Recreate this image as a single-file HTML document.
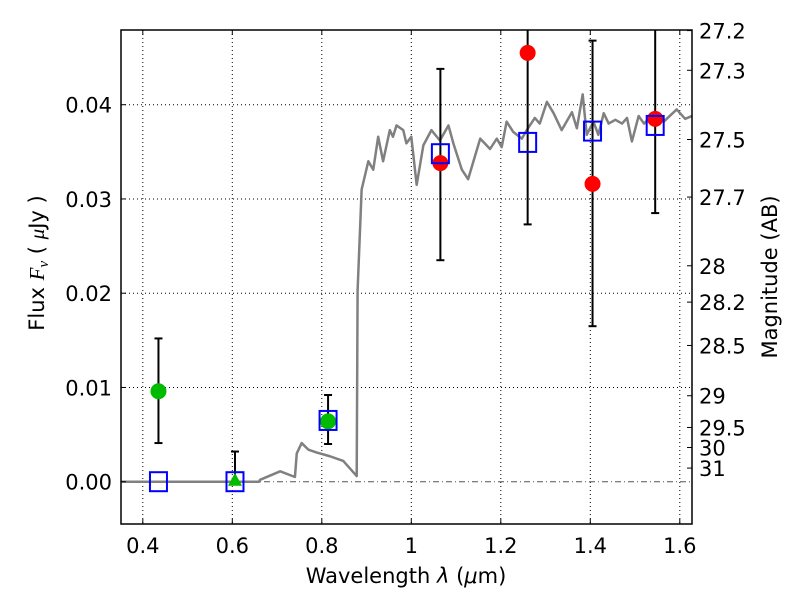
<!DOCTYPE html>
<html><head><meta charset="utf-8"><style>
body{margin:0;background:#fff}
svg text{font-family:"DejaVu Sans","Liberation Sans",sans-serif;fill:#000}
</style></head><body>
<svg id="c" width="800" height="600" viewBox="0 0 800 600"></svg>
<script>
const xTicks=[0.4,0.6,0.8,1.0,1.2,1.4,1.6];
const xTickLabels=["0.4","0.6","0.8","1","1.2","1.4","1.6"];
const yTicks=[0,0.01,0.02,0.03,0.04];
const yTickLabels=["0.00","0.01","0.02","0.03","0.04"];
const magTicks=[27.2,27.3,27.5,27.7,28,28.2,28.5,29,29.5,30,31];
const magLabels=["27.2","27.3","27.5","27.7","28","28.2","28.5","29","29.5","30","31"];
const specLam=[0.351,0.66,0.662,0.707,0.740,0.744,0.755,0.770,0.788,0.818,0.848,0.878,0.880,0.889,0.904,0.915,0.926,0.937,0.952,0.959,0.967,0.982,0.989,1.000,1.012,1.027,1.045,1.064,1.083,1.094,1.113,1.127,1.154,1.176,1.191,1.202,1.213,1.228,1.247,1.258,1.276,1.287,1.303,1.318,1.336,1.359,1.370,1.383,1.392,1.407,1.418,1.430,1.441,1.456,1.471,1.482,1.493,1.508,1.520,1.542,1.564,1.593,1.612,1.627];
const specFlux=[0,0,0.0002,0.0011,0.0005,0.003,0.0041,0.0034,0.0031,0.0027,0.0022,0.0006,0.0203,0.031,0.034,0.0331,0.0366,0.034,0.0373,0.0366,0.0378,0.0373,0.0359,0.0366,0.0315,0.0357,0.0373,0.0362,0.0378,0.0359,0.0331,0.0321,0.0364,0.0353,0.0364,0.0355,0.0382,0.0371,0.0364,0.0373,0.0386,0.038,0.0403,0.0391,0.0373,0.0392,0.0375,0.0411,0.0368,0.0382,0.0368,0.0391,0.038,0.0384,0.038,0.0386,0.0361,0.0388,0.038,0.039,0.0382,0.0395,0.0385,0.0388];
const modelLam=[0.435,0.606,0.814,1.065,1.26,1.405,1.545];
const modelFlux=[0,0,0.0065,0.0348,0.0360,0.0372,0.0378];
const greenLam=[0.435,0.814];
const greenFlux=[0.0096,0.0064];
const greenLo=[0.0041,0.0040];
const greenHi=[0.0152,0.0092];
const limLam=[0.606];
const limFlux=[0];
const limHi=[0.0032];
const redLam=[1.065,1.26,1.405,1.545];
const redFlux=[0.0338,0.0455,0.0316,0.0385];
const redLo=[0.0235,0.0273,0.0165,0.0285];
const redHi=[0.0438,0.06,0.0468,0.06];

const L=121,R=692,T=30,B=524;
const X=v=>411.3+(v-1)*447.5;
const Y=v=>481.7-v*9425;
const svg=document.getElementById('c');
const NS='http://www.w3.org/2000/svg';
function mk(tag,attrs,parent){const e=document.createElementNS(NS,tag);for(const k in attrs)e.setAttribute(k,attrs[k]);(parent||svg).appendChild(e);return e;}
const defs=mk('defs',{});const cp=mk('clipPath',{id:'clip'},defs);mk('rect',{x:L,y:T,width:R-L,height:B-T},cp);
const plot=mk('g',{'clip-path':'url(#clip)'});


xTicks.forEach(v=>{const g=mk('line',{x1:X(v),x2:X(v),y1:T,y2:B,stroke:'#000','stroke-width':1,'stroke-dasharray':'1,3'},plot);

});
yTicks.forEach(v=>{if(v===0)return;const g=mk('line',{x1:L,x2:R,y1:Y(v),y2:Y(v),stroke:'#000','stroke-width':1,'stroke-dasharray':'1,3'},plot);

});
const zl=mk('line',{x1:L,x2:R,y1:Y(0),y2:Y(0),stroke:'#555','stroke-width':1,'stroke-dasharray':'6,3,1,3'},plot);


const sp=mk('polyline',{points:specLam.map((l,i)=>X(l)+','+Y(specFlux[i])).join(' '),fill:'none',stroke:'#808080','stroke-width':2.5,'stroke-linejoin':'round'},plot);


function err(x,lo,hi,name){const g=mk('g',{stroke:'#000','stroke-width':2},plot);


mk('line',{x1:X(x),x2:X(x),y1:Y(lo),y2:Y(hi)},g);mk('line',{x1:X(x)-4,x2:X(x)+4,y1:Y(lo),y2:Y(lo)},g);mk('line',{x1:X(x)-4,x2:X(x)+4,y1:Y(hi),y2:Y(hi)},g);}
greenLam.forEach((l,i)=>err(l,greenLo[i],greenHi[i],'green-errorbar'));
limLam.forEach((l,i)=>err(l,limFlux[i],limHi[i],'limit-errorbar'));
redLam.forEach((l,i)=>err(l,redLo[i],redHi[i],'red-errorbar'));
greenLam.forEach((l,i)=>{const c=mk('circle',{cx:X(l),cy:Y(greenFlux[i]),r:8,fill:'#00bb00'},plot);

});
limLam.forEach((l,i)=>{const x=X(l),y=Y(limFlux[i]);const t=mk('polygon',{points:`${x},${y-9} ${x-7},${y+4} ${x+7},${y+4}`,fill:'#00bb00'},plot);

});
redLam.forEach((l,i)=>{const c=mk('circle',{cx:X(l),cy:Y(redFlux[i]),r:8,fill:'#ff0000'},plot);

});
modelLam.forEach((l,i)=>{const s=mk('rect',{x:X(l)-8.5,y:Y(modelFlux[i])-9.5,width:17,height:19,fill:'none',stroke:'#0000ff','stroke-width':2},plot);

});
const fr=mk('rect',{x:L,y:T,width:R-L,height:B-T,fill:'none',stroke:'#000','stroke-width':1.5});


xTicks.forEach((v,i)=>{mk('line',{x1:X(v),x2:X(v),y1:B,y2:B-5,stroke:'#000'});mk('line',{x1:X(v),x2:X(v),y1:T,y2:T+5,stroke:'#000'});
const t=mk('text',{x:X(v),y:B+29,'text-anchor':'middle','font-size':21});t.textContent=xTickLabels[i];

});
yTicks.forEach((v,i)=>{mk('line',{x1:L,x2:L+5,y1:Y(v),y2:Y(v),stroke:'#000'});
const t=mk('text',{x:112,y:Y(v)+8,'text-anchor':'end','font-size':21});t.textContent=yTickLabels[i];

});
const magY=m=>Y(Math.pow(10,(23.9-m)/2.5));
magTicks.forEach((m,i)=>{mk('line',{x1:R-5,x2:R,y1:magY(m),y2:magY(m),stroke:'#000'});
const t=mk('text',{x:699,y:magY(m)+8,'font-size':21});t.textContent=magLabels[i];

});
</script>
<svg width="800" height="600" style="position:absolute;left:0;top:0">
<text x="406" y="583" text-anchor="middle" font-size="21">Wavelength  <tspan font-style="italic">λ</tspan> (<tspan font-style="italic">μ</tspan>m)</text>
<text transform="translate(44,263) rotate(-90)" text-anchor="middle" font-size="21">Flux  <tspan font-family="Liberation Serif" font-style="italic">F<tspan font-size="15" dy="4">ν</tspan></tspan><tspan dy="-4">  ( </tspan><tspan font-family="Liberation Serif" font-style="italic">μ</tspan>Jy )</text>
<text transform="translate(777,277) rotate(-90)" text-anchor="middle" font-size="21">Magnitude (AB)</text>
</svg>
</body></html>
